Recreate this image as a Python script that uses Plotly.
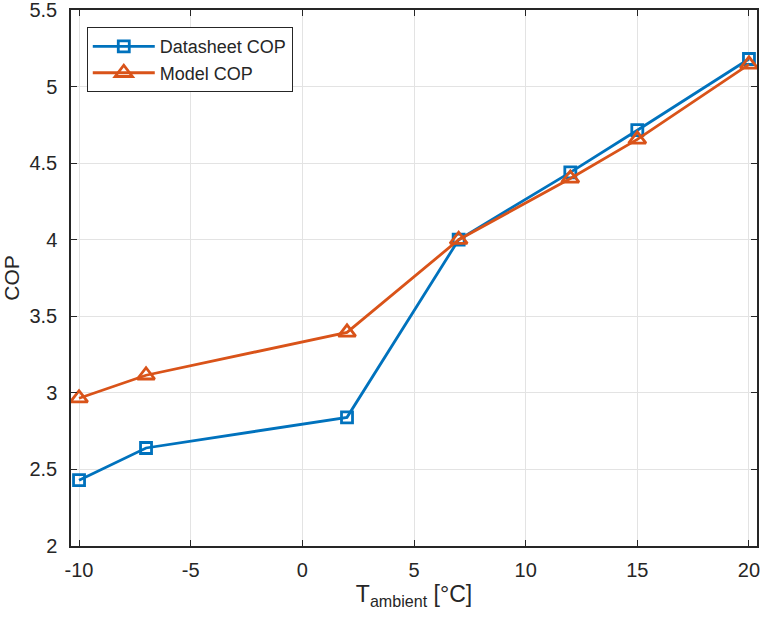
import plotly.graph_objects as go

t_ambient = [-10, -7, 2, 7, 12, 15, 20]
datasheet_cop = [2.43, 2.64, 2.84, 4.00, 4.44, 4.715, 5.18]
model_cop = [2.965, 3.115, 3.395, 4.00, 4.40, 4.655, 5.145]

x_ticks = [-10, -5, 0, 5, 10, 15, 20]
y_ticks = [2, 2.5, 3, 3.5, 4, 4.5, 5, 5.5]
y_ticklabels = ["2", "2.5", "3", "3.5", "4", "4.5", "5", "5.5"]

blue = "#0072BD"
orange = "#D95319"
axcol = "#262626"
font = "Liberation Sans, Arial, Helvetica, sans-serif"

fig = go.Figure()
fig.add_trace(go.Scatter(
    x=t_ambient, y=datasheet_cop, mode="lines+markers", name="Datasheet COP",
    line=dict(color=blue, width=2.8),
    marker=dict(symbol="square-open", size=11, color=blue, line=dict(width=2.8, color=blue)),
))
fig.add_trace(go.Scatter(
    x=t_ambient, y=model_cop, mode="lines+markers", name="Model COP",
    line=dict(color=orange, width=2.8),
    marker=dict(symbol="triangle-up-open", size=15, color=orange, line=dict(width=2.8, color=orange)),
))

fig.update_layout(
    width=762, height=623,
    margin=dict(l=71, r=5, t=10, b=77),
    paper_bgcolor="white", plot_bgcolor="white",
    font=dict(family=font, size=20, color=axcol),
    showlegend=True,
    legend=dict(
        x=0.023, y=0.968, xanchor="left", yanchor="top",
        bgcolor="white", bordercolor=axcol, borderwidth=1,
        font=dict(family=font, size=18, color=axcol),
        tracegroupgap=0, itemwidth=62,
    ),
)
fig.update_xaxes(
    range=[-10.36, 20.36], tickvals=x_ticks, ticktext=[str(v) for v in x_ticks],
    showgrid=True, gridcolor="#e3e3e3", gridwidth=1, zeroline=False,
    showline=True, linecolor=axcol, linewidth=1.5, mirror="ticks",
    ticks="inside", ticklen=6, tickcolor=axcol, tickwidth=1.2,
    tickfont=dict(size=20, color=axcol), ticklabelstandoff=5,
    ticklabeloverflow="allow", automargin=False,
    title=dict(text="T<sub>ambient</sub> [°C]", font=dict(size=23, color=axcol), standoff=4),
)
fig.update_yaxes(
    range=[2, 5.5], tickvals=y_ticks, ticktext=y_ticklabels,
    showgrid=True, gridcolor="#e3e3e3", gridwidth=1, zeroline=False,
    showline=True, linecolor=axcol, linewidth=1.5, mirror="ticks",
    ticks="inside", ticklen=6, tickcolor=axcol, tickwidth=1.2,
    tickfont=dict(size=20, color=axcol), ticklabelstandoff=8,
    ticklabeloverflow="allow", automargin=False,
    title=dict(text="COP", font=dict(size=21, color=axcol), standoff=8),
)

fig.write_html("out.html")
